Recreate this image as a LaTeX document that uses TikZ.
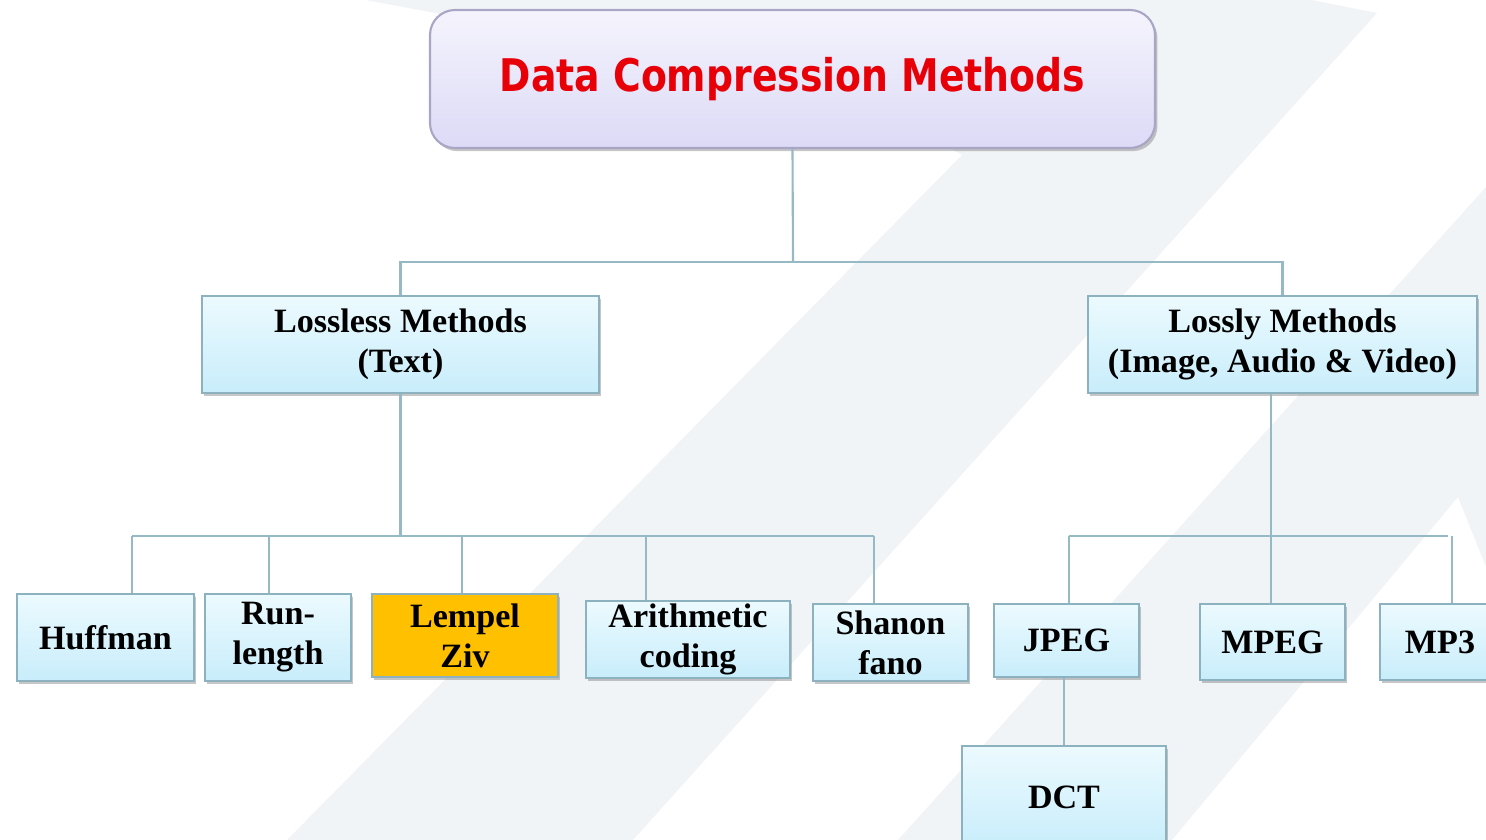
\documentclass[tikz,border=0pt]{standalone}
\usepackage{fontspec}
\setmainfont{Liberation Serif}
\newfontfamily\titlefont[FakeStretch=0.84]{DejaVu Sans}
\usetikzlibrary{shadows}

\definecolor{bgband}{RGB}{241,244,247}
\definecolor{linecol}{RGB}{150,185,198}
\definecolor{boxtop}{RGB}{236,250,254}
\definecolor{boxbot}{RGB}{200,237,251}
\definecolor{boxline}{RGB}{140,178,192}
\definecolor{titletop}{RGB}{245,244,253}
\definecolor{titlebot}{RGB}{220,218,246}
\definecolor{titleline}{RGB}{168,166,196}
\definecolor{titlered}{RGB}{232,0,8}
\definecolor{lzfill}{RGB}{255,192,0}

\begin{document}
\begin{tikzpicture}[
    cell/.style={draw=boxline, line width=0.6pt, inner sep=0pt, align=center,
      font=\fontsize{9.7}{11.4}\selectfont\bfseries,
      drop shadow={shadow xshift=0.7pt, shadow yshift=-0.9pt, opacity=0.45}},
    box/.style={cell, top color=boxtop, bottom color=boxbot},
    hot/.style={cell, fill=lzfill},
    conn/.style={draw=linecol, line width=0.6pt}
  ]
  \useasboundingbox (0,0) rectangle (14.86,-8.40);
  % background bands
  \fill[bgband] (3.65,0) -- (13.12,0) -- (13.77,-0.13) -- (6.33,-8.40) -- (2.87,-8.40)
    -- (9.62,-1.55) -- (9.0,-1.2) -- (4.30,-0.12) -- cycle;
  \fill[bgband] (14.86,-1.87) -- (14.86,-5.67) -- (14.58,-4.97) -- (11.72,-8.40)
    -- (8.98,-8.40) -- cycle;

  % title
  \draw (7.925,-0.79) node[draw=titleline, line width=0.6pt, rounded corners=0.25cm,
    top color=titletop, bottom color=titlebot, minimum width=7.25cm, minimum height=1.38cm,
    text=titlered, font=\titlefont\fontsize{12.8}{14}\selectfont\bfseries,
    drop shadow={shadow xshift=0.7pt, shadow yshift=-0.9pt, opacity=0.45}](title)
    {\raisebox{-0.03cm}{Data Compression Methods}};

  % second level
  \draw (4.005,-3.445) node[box, minimum width=3.97cm, minimum height=0.97cm](lossless)
    {Lossless Methods\\(Text)};
  \draw (12.825,-3.445) node[box, minimum width=3.89cm, minimum height=0.97cm](lossy)
    {Lossly Methods\\(Image, Audio \& Video)};

  % lossless methods
  \draw (1.055,-6.375) node[box, minimum width=1.77cm, minimum height=0.87cm](huff){Huffman};
  \draw (2.78,-6.375) node[box, minimum width=1.46cm, minimum height=0.87cm](run){Run-\\length};
  \draw (4.65,-6.355) node[hot, minimum width=1.86cm, minimum height=0.83cm](lz){Lempel\\Ziv};
  \draw (6.88,-6.395) node[box, minimum width=2.04cm, minimum height=0.77cm](arith){Arithmetic\\coding};
  \draw (8.905,-6.425) node[box, minimum width=1.55cm, minimum height=0.77cm](shan){Shanon\\fano};

  % lossy methods
  \draw (10.665,-6.405) node[box, minimum width=1.45cm, minimum height=0.73cm](jpeg){JPEG};
  \draw (12.725,-6.42) node[box, minimum width=1.45cm, minimum height=0.76cm](mpeg){MPEG};
  \draw (14.4,-6.42) node[box, minimum width=1.2cm, minimum height=0.76cm](mp3){MP3};
  \draw (10.64,-7.97) node[box, minimum width=2.04cm, minimum height=1.02cm](dct){DCT};

  % connectors
  \coordinate (tbus) at (7.93,-2.62);
  \draw[conn] (title.south) -- (tbus);
  \draw[conn] (lossless.north) |- (tbus) -| (lossy.north);

  \coordinate (llbus) at (3.99,-5.36);
  \draw[conn] (lossless.south) -- (lossless.south |- llbus);
  \draw[conn] (1.32,-5.36) -- (8.74,-5.36);
  \foreach \x/\n in {1.32/huff, 2.69/run, 4.62/lz, 6.46/arith, 8.74/shan}
    \draw[conn] (\x,-5.36) -- (\x,0 |- \n.north);

  \coordinate (lybus) at (12.71,-5.36);
  \draw[conn] (lossy.south -| lybus) -- (lybus |- mpeg.north);
  \draw[conn] (10.69,-5.36) -- (14.48,-5.36);
  \foreach \x/\n in {10.69/jpeg, 14.52/mp3}
    \draw[conn] (\x,-5.36) -- (\x,0 |- \n.north);

  \draw[conn] (dct.north |- jpeg.south) -- (dct.north);
\end{tikzpicture}
\end{document}
